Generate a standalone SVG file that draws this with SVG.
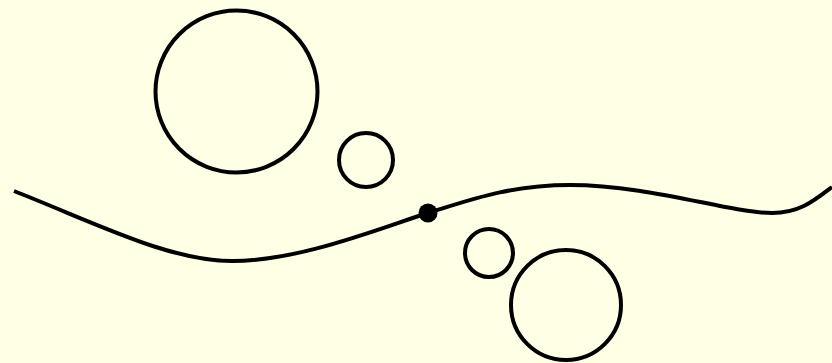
<svg xmlns="http://www.w3.org/2000/svg" width="832" height="363" viewBox="0 0 832 363">
<style>
.c{fill:none;stroke:#000;stroke-width:4}
</style>
<rect width="832" height="363" fill="#FFFFE6"/>
<g id="connectors">
<path class="c" d="M14,191 C100,225 170,261 232,261 C300,261 380,228 428,213 C470,200 510,185 570,185 C650,185 730,213 772,213 C800,213 815,200 832,187"/>
</g>
<g id="dot"><circle cx="428" cy="213" r="9.5" fill="#000"/></g>
<g id="circle1"><circle class="c" cx="236.5" cy="91.5" r="81"/></g>
<g id="circle2"><circle class="c" cx="366" cy="160" r="27"/></g>
<g id="circle3"><circle class="c" cx="489" cy="253" r="24"/></g>
<g id="circle4"><circle class="c" cx="566" cy="305" r="55"/></g>
</svg>
